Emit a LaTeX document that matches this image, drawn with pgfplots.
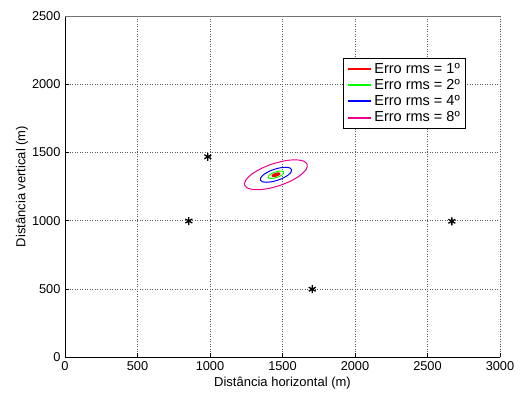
\documentclass[border=0pt]{standalone}
\usepackage{pgfplots}
\pgfplotsset{compat=1.18}
\usepackage{fontspec}
\setmainfont{Liberation Sans}
\begin{document}
\begin{tikzpicture}
\useasboundingbox (-65bp,-37bp) rectangle (455bp,357bp);
\begin{axis}[
  at={(0,0)}, anchor=south west,
  scale only axis, width=435bp, height=341bp,
  xmin=0, xmax=3000, ymin=0, ymax=2500,
  xtick={0,500,...,3000}, ytick={0,500,...,2500},
  axis x line*=bottom, axis y line*=left,
  axis line style={black, line width=0.8bp, -},
  tick align=inside, major tick length=4bp,
  tick style={black, line width=0.6bp},
  grid=major,
  major grid style={black!65, line width=0.6bp, dash pattern=on 1bp off 1.5bp},
  /pgf/number format/assume math mode=true,
  /pgf/number format/1000 sep={},
  tick label style={font=\fontsize{12.8bp}{14bp}\selectfont},
  xticklabel style={yshift=-1bp},
  yticklabel style={xshift=-1bp},
  label style={font=\fontsize{13bp}{14bp}\selectfont},
  xlabel={Distância horizontal (m)},
  ylabel={Distância vertical (m)},
  xlabel style={at={(axis description cs:0.5,-0.0762)}, anchor=center},
  ylabel style={at={(axis description cs:-0.0989,0.5)}, anchor=center},
  legend style={at={(0.639,0.877)}, anchor=north west,
    fill=white, font=\fontsize{14.5bp}{17bp}\selectfont, row sep=0.5bp,
    inner xsep=4bp, inner ysep=3bp},
  every axis legend/.append style={draw=black, line width=0.8bp},
  legend cell align=left,
  legend image code/.code={\draw[#1] (0bp,0bp) -- (23bp,0bp);},
]
\draw[black!55, line width=0.8bp] (rel axis cs:0,1) -- (rel axis cs:1,1) -- (rel axis cs:1,0);
\addlegendimage{color=red, line width=2bp}
\addlegendentry{Erro rms = 1º}
\addlegendimage{color=green, line width=2bp}
\addlegendentry{Erro rms = 2º}
\addlegendimage{color=blue, line width=2bp}
\addlegendentry{Erro rms = 4º}
\addlegendimage{color=magenta, line width=2bp}
\addlegendentry{Erro rms = 8º}
\addplot[red, line width=1bp, fill=red, smooth cycle, forget plot] coordinates {
(1481.9,1345.5) (1478.7,1348.6) (1471.9,1349.7) (1462.5,1348.8) (1451.9,1345.9) (1441.8,1341.5) (1433.8,1336.3) (1428.9,1331.0)
(1428.1,1326.5) (1431.3,1323.4) (1438.1,1322.3) (1447.5,1323.2) (1458.1,1326.1) (1468.2,1330.5) (1476.2,1335.7) (1481.1,1341.0)};
\addplot[green, line width=1bp, smooth cycle, forget plot] coordinates {
(1508.9,1355.1) (1502.4,1361.2) (1488.7,1363.5) (1469.9,1361.6) (1448.8,1355.8) (1428.6,1347.0) (1412.5,1336.5) (1402.8,1325.9)
(1401.1,1316.9) (1407.6,1310.8) (1421.3,1308.5) (1440.1,1310.4) (1461.2,1316.2) (1481.4,1325.0) (1497.5,1335.5) (1507.2,1346.1)};
\addplot[blue, line width=1bp, smooth cycle, forget plot] coordinates {
(1562.8,1374.1) (1549.8,1386.4) (1522.4,1390.9) (1484.8,1387.2) (1442.6,1375.6) (1402.2,1358.0) (1370.0,1337.0) (1350.7,1315.9)
(1347.2,1297.9) (1360.2,1285.6) (1387.6,1281.1) (1425.2,1284.8) (1467.4,1296.4) (1507.8,1314.0) (1540.0,1335.0) (1559.3,1356.1)};
\addplot[magenta, line width=1bp, smooth cycle, forget plot] coordinates {
(1670.5,1412.2) (1644.6,1436.7) (1589.8,1445.8) (1514.6,1438.3) (1430.2,1415.1) (1349.5,1379.9) (1285.1,1338.0) (1246.4,1295.8)
(1239.5,1259.8) (1265.4,1235.3) (1320.2,1226.2) (1395.4,1233.7) (1479.8,1256.9) (1560.5,1292.1) (1624.9,1334.0) (1663.6,1376.2)};
\addplot[only marks, mark=asterisk, mark size=4bp, black, line width=1.3bp, forget plot] coordinates {
(985,1468) (854,997) (1705,497) (2668,995)};
\end{axis}
\end{tikzpicture}
\end{document}
